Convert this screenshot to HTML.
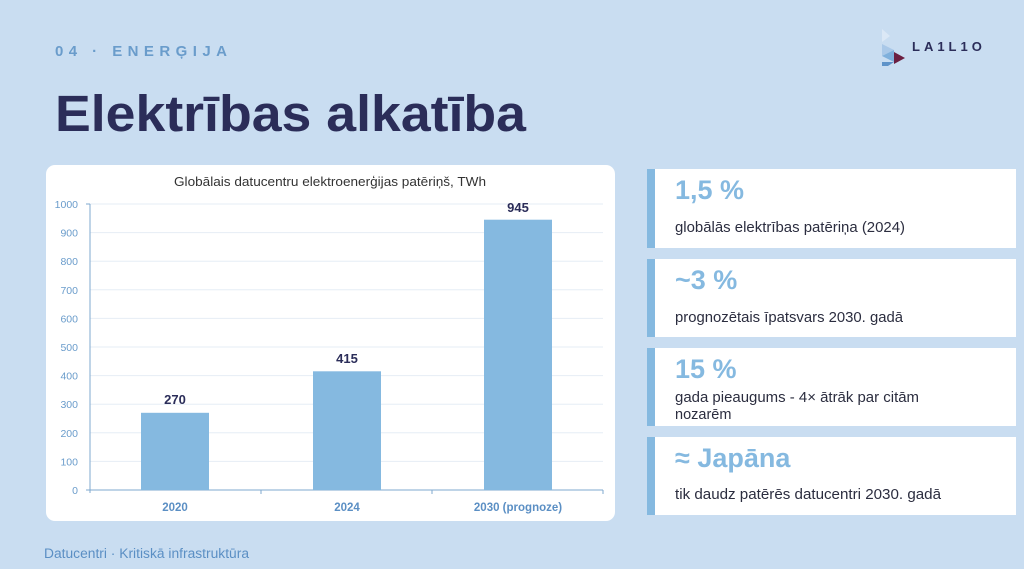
<!DOCTYPE html>
<html><head><meta charset="utf-8"><style>
html,body{margin:0;padding:0;background:#c9ddf1;}
svg{display:block;font-family:"Liberation Sans",sans-serif;}
</style></head><body>
<svg width="1024" height="569" viewBox="0 0 1024 569">
<rect width="1024" height="569" fill="#c9ddf1"/>
<text x="55" y="56" font-size="15" font-weight="bold" fill="#6a9ccb" textLength="172" lengthAdjust="spacing">04 · ENERĢIJA</text>
<text x="55" y="131" font-size="51" font-weight="bold" fill="#2b2d59" textLength="471" lengthAdjust="spacingAndGlyphs">Elektrības alkatība</text>
<!-- logo -->
<polygon points="882,29 890,36 882,42" fill="#dbe8f6"/>
<polygon points="882,44 894,50 882,56" fill="#a9c8e8"/>
<polygon points="882,56 894,50 894,62" fill="#7fb0dc"/>
<polygon points="882,62 894,62 888,66 882,66" fill="#5e93c9"/>
<polygon points="894,52 905,58 894,64" fill="#6b1e40"/>
<text x="912" y="51" font-size="13" font-weight="bold" fill="#2b2d59" letter-spacing="4">LA1L1O</text>
<!-- chart card -->
<rect x="46" y="165" width="569" height="356" rx="9" fill="#fff"/>
<text x="330" y="186" font-size="12.5" fill="#333" text-anchor="middle" textLength="312" lengthAdjust="spacingAndGlyphs">Globālais datucentru elektroenerģijas patēriņš, TWh</text>
<g stroke="#e6edf5" stroke-width="1">
<line x1="90" x2="603" y1="204" y2="204"/><line x1="90" x2="603" y1="232.6" y2="232.6"/><line x1="90" x2="603" y1="261.2" y2="261.2"/><line x1="90" x2="603" y1="289.8" y2="289.8"/><line x1="90" x2="603" y1="318.4" y2="318.4"/><line x1="90" x2="603" y1="347" y2="347"/><line x1="90" x2="603" y1="375.6" y2="375.6"/><line x1="90" x2="603" y1="404.2" y2="404.2"/><line x1="90" x2="603" y1="432.8" y2="432.8"/><line x1="90" x2="603" y1="461.4" y2="461.4"/>
</g>
<g font-size="10.5" fill="#6a9ccb" text-anchor="end">
<text x="78" y="208">1000</text><text x="78" y="236.6">900</text><text x="78" y="265.2">800</text><text x="78" y="293.8">700</text><text x="78" y="322.4">600</text><text x="78" y="351">500</text><text x="78" y="379.6">400</text><text x="78" y="408.2">300</text><text x="78" y="436.8">200</text><text x="78" y="465.4">100</text><text x="78" y="494">0</text>
</g>
<g stroke="#7fa8cf" stroke-width="1">
<line x1="90" y1="204" x2="90" y2="493"/><line x1="90" y1="490" x2="603" y2="490"/>
<line x1="261" y1="490" x2="261" y2="494"/><line x1="432" y1="490" x2="432" y2="494"/><line x1="603" y1="490" x2="603" y2="494"/>
<line x1="86" y1="204" x2="90" y2="204"/><line x1="86" y1="490" x2="90" y2="490"/>
</g>
<g fill="#85b9e0">
<rect x="141" y="412.8" width="68" height="77.2"/>
<rect x="313" y="371.3" width="68" height="118.7"/>
<rect x="484" y="219.7" width="68" height="270.3"/>
</g>
<g font-size="13" font-weight="bold" fill="#2b2d59" text-anchor="middle">
<text x="175" y="404">270</text><text x="347" y="363">415</text><text x="518" y="212">945</text>
</g>
<g font-size="11.5" font-weight="bold" fill="#5b8fc4" text-anchor="middle">
<text x="175" y="511">2020</text><text x="347" y="511">2024</text><text x="518" y="511">2030 (prognoze)</text>
</g>
<!-- stat cards -->
<g>
<rect x="647" y="169" width="369" height="79" fill="#fff"/><rect x="647" y="169" width="8" height="79" fill="#85b9e0"/>
<text x="675" y="199" font-size="27" font-weight="bold" fill="#85b9e0">1,5 %</text>
<text x="675" y="232" font-size="14.5" fill="#2b2d3f" textLength="230" lengthAdjust="spacingAndGlyphs">globālās elektrības patēriņa (2024)</text>
<rect x="647" y="259" width="369" height="78" fill="#fff"/><rect x="647" y="259" width="8" height="78" fill="#85b9e0"/>
<text x="675" y="289" font-size="27" font-weight="bold" fill="#85b9e0">~3 %</text>
<text x="675" y="322" font-size="14.5" fill="#2b2d3f" textLength="228" lengthAdjust="spacingAndGlyphs">prognozētais īpatsvars 2030. gadā</text>
<rect x="647" y="348" width="369" height="78" fill="#fff"/><rect x="647" y="348" width="8" height="78" fill="#85b9e0"/>
<text x="675" y="378" font-size="27" font-weight="bold" fill="#85b9e0">15 %</text>
<text x="675" y="402" font-size="14.5" fill="#2b2d3f" textLength="244" lengthAdjust="spacingAndGlyphs">gada pieaugums - 4× ātrāk par citām</text>
<text x="675" y="419" font-size="14.5" fill="#2b2d3f">nozarēm</text>
<rect x="647" y="437" width="369" height="78" fill="#fff"/><rect x="647" y="437" width="8" height="78" fill="#85b9e0"/>
<text x="675" y="467" font-size="27" font-weight="bold" fill="#85b9e0">≈ Japāna</text>
<text x="675" y="499" font-size="14.5" fill="#2b2d3f" textLength="266" lengthAdjust="spacingAndGlyphs">tik daudz patērēs datucentri 2030. gadā</text>
</g>
<text x="44" y="558" font-size="13.5" fill="#5b8fc4" textLength="205" lengthAdjust="spacingAndGlyphs">Datucentri · Kritiskā infrastruktūra</text>
</svg>
</body></html>
